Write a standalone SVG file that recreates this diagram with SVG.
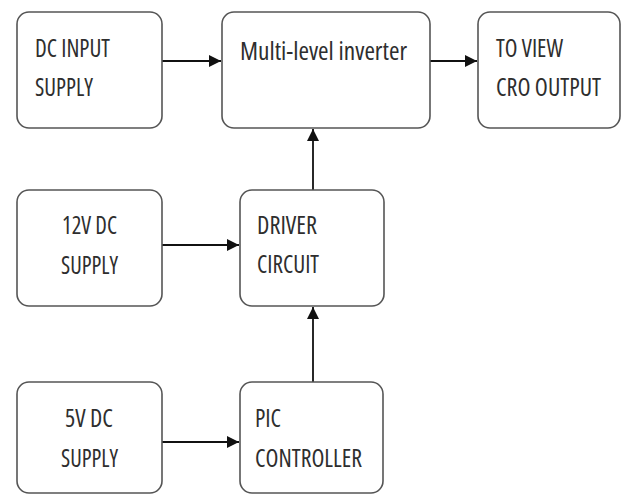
<svg xmlns="http://www.w3.org/2000/svg" width="622" height="495" viewBox="0 0 622 495">
<style>
.box{fill:#fff;stroke:#555;stroke-width:1.6}
.t{font-family:"Open Sans","Liberation Sans",sans-serif;font-size:26px;font-stretch:condensed;fill:#2e2e2e}
.c{stroke:#111;stroke-width:1.8;fill:none}
</style>
<defs>
<marker id="ah" markerWidth="12" markerHeight="12" viewBox="0 0 12 12" refX="12" refY="6" orient="auto" markerUnits="userSpaceOnUse">
<path d="M0,0 L12,6 L0,12 Z" fill="#111"/>
</marker>
</defs>
<rect width="622" height="495" fill="#fff"/>
<g id="connectors">
<line class="c" x1="162" y1="61" x2="221" y2="61" marker-end="url(#ah)"/>
<line class="c" x1="430" y1="61" x2="477" y2="61" marker-end="url(#ah)"/>
<line class="c" x1="313" y1="190" x2="313" y2="129" marker-end="url(#ah)"/>
<line class="c" x1="162" y1="245" x2="239" y2="245" marker-end="url(#ah)"/>
<line class="c" x1="313" y1="382" x2="313" y2="307" marker-end="url(#ah)"/>
<line class="c" x1="162" y1="442" x2="239" y2="442" marker-end="url(#ah)"/>
</g>
<g id="dc-input">
<rect class="box" x="17" y="12" width="145" height="116" rx="12"/>
<text class="t" x="35" y="57" textLength="75" lengthAdjust="spacingAndGlyphs">DC INPUT</text>
<text class="t" x="35" y="96" textLength="58" lengthAdjust="spacingAndGlyphs">SUPPLY</text>
</g>
<g id="inverter">
<rect class="box" x="222" y="12" width="208" height="116" rx="12"/>
<text class="t" x="240" y="60" textLength="167" lengthAdjust="spacingAndGlyphs">Multi-level inverter</text>
</g>
<g id="cro">
<rect class="box" x="478" y="12" width="142" height="116" rx="12"/>
<text class="t" x="496" y="57" textLength="67" lengthAdjust="spacingAndGlyphs">TO VIEW</text>
<text class="t" x="496" y="96" textLength="105" lengthAdjust="spacingAndGlyphs">CRO OUTPUT</text>
</g>
<g id="dc12">
<rect class="box" x="17" y="190" width="145" height="116" rx="12"/>
<text class="t" x="62" y="234" textLength="55" lengthAdjust="spacingAndGlyphs">12V DC</text>
<text class="t" x="61" y="274" textLength="57" lengthAdjust="spacingAndGlyphs">SUPPLY</text>
</g>
<g id="driver">
<rect class="box" x="240" y="190" width="144" height="116" rx="12"/>
<text class="t" x="257" y="234" textLength="60" lengthAdjust="spacingAndGlyphs">DRIVER</text>
<text class="t" x="257" y="273" textLength="62" lengthAdjust="spacingAndGlyphs">CIRCUIT</text>
</g>
<g id="dc5">
<rect class="box" x="17" y="382" width="145" height="111" rx="12"/>
<text class="t" x="65" y="427" textLength="48" lengthAdjust="spacingAndGlyphs">5V DC</text>
<text class="t" x="61" y="467" textLength="57" lengthAdjust="spacingAndGlyphs">SUPPLY</text>
</g>
<g id="pic">
<rect class="box" x="240" y="382" width="143" height="111" rx="12"/>
<text class="t" x="255" y="427" textLength="26" lengthAdjust="spacingAndGlyphs">PIC</text>
<text class="t" x="255" y="467" textLength="107" lengthAdjust="spacingAndGlyphs">CONTROLLER</text>
</g>
</svg>
